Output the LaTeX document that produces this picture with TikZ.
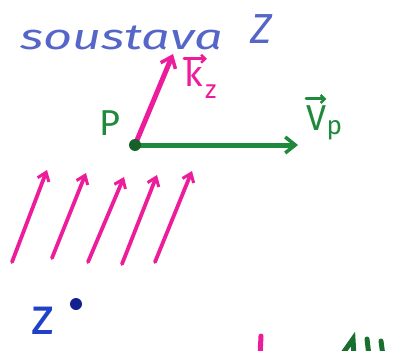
\documentclass[tikz,border=0pt]{standalone}
\usepackage{fontspec}
\setmainfont{Fira Sans}
\usetikzlibrary{arrows.meta}
\definecolor{mag}{HTML}{EC1C9A}
\definecolor{grn}{HTML}{1F8A3C}
\definecolor{ttl}{HTML}{5565C8}
\definecolor{zblue}{HTML}{2040C8}
\definecolor{navy}{HTML}{14208C}
\tikzset{
  vecarrow/.style={line width=5pt, line cap=round, -{Straight Barb[length=10pt,width=16pt,line width=3.5pt]}},
  flow/.style={mag, line width=3.8pt, line cap=round, -{Straight Barb[length=8pt,width=12pt,line width=3pt]}},
  lbl/.style={inner sep=0pt, font=\fontsize{36}{36}\selectfont},
  sub/.style={inner sep=0pt, font=\fontsize{26}{26}\selectfont},
  overarrow/.style={line width=3pt, line cap=round, -{Straight Barb[length=4pt,width=8pt,line width=2.5pt]}},
  frag/.style={line width=5pt, line cap=round}
}
\begin{document}
\begin{tikzpicture}[x=1pt,y=-1pt]
\useasboundingbox (0,0) rectangle (406,350);
% title
\node[ttl, inner sep=0pt, text depth=0pt, anchor=base west, xscale=1.4, font=\fontsize{36}{36}\itshape\selectfont] (title) at (20,50) {soustava};
\node[ttl, inner sep=0pt, text depth=0pt, anchor=base west, font=\fontsize{42}{42}\itshape\selectfont] (titleZ) at (250,44) {Z};
% point P
\coordinate (P) at (135,145);
\coordinate (ktip) at (173,54);
\coordinate (vtip) at (298,145);
\draw[vecarrow, mag] (P) -- (ktip);
\draw[vecarrow, grn] (P) -- (vtip);
\fill[grn!70!black] (P) circle (6);
\node[lbl, grn, anchor=base] (Plabel) at (110,135) {P};
% k_z label
\node[lbl, mag, anchor=base west] (klabel) at (184,87) {k};
\node[sub, mag, anchor=base west] (kz) at ([xshift=2pt,yshift=-12pt]klabel.base east) {z};
\draw[overarrow, mag] ([yshift=1pt]klabel.north west) -- ([yshift=1pt,xshift=4pt]klabel.north east);
% V_p label
\node[lbl, grn, anchor=base west] (vlabel) at (306,130) {V};
\node[sub, grn, anchor=base west] (vp) at ([yshift=-4pt]vlabel.base east) {p};
\draw[overarrow, grn] ([yshift=6pt]vlabel.north west) -- ([yshift=6pt]vlabel.north east);
% flow arrows
\coordinate (b1) at (12,262); \coordinate (t1) at (47,170);
\coordinate (b2) at (52,258); \coordinate (t2) at (86,173);
\coordinate (b3) at (88,262); \coordinate (t3) at (124,177);
\coordinate (b4) at (122,264); \coordinate (t4) at (157,175);
\coordinate (b5) at (155,262); \coordinate (t5) at (192,171);
\foreach \i in {1,...,5} \draw[flow] (b\i) -- (t\i);
% point Z
\node[zblue, inner sep=0pt, anchor=base, font=\fontsize{52}{52}\selectfont] (zlabel) at (43,334) {z};
\fill[navy] (76,304) circle (6);
% cut-off fragments at bottom
\begin{scope}
\clip (0,0) rectangle (406,350);
\draw[frag, mag] (261,336) -- (260,356);
\draw[frag, grn!80!black] (341,356) -- (353,339) -- (354,356);
\draw[frag, grn!80!black] (367,339) -- (369,356);
\draw[frag, grn!80!black] (381,341) -- (383,356);
\end{scope}
\end{tikzpicture}
\end{document}
